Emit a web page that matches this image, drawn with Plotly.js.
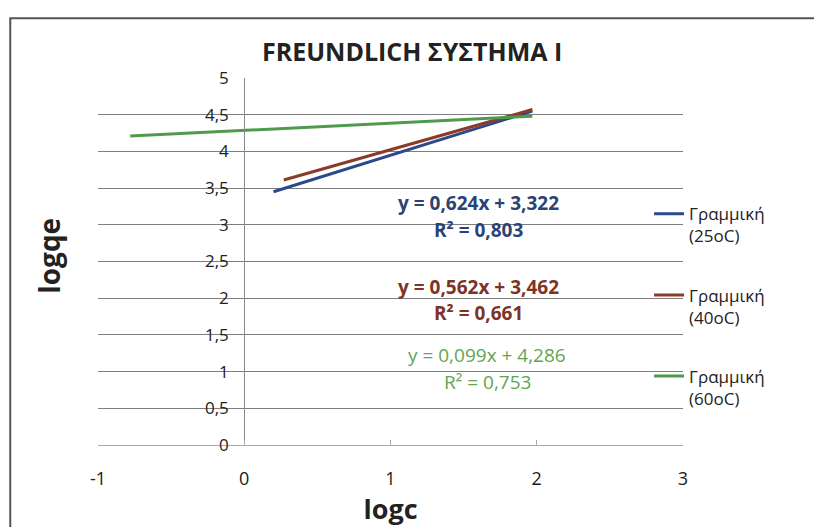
<!DOCTYPE html>
<html>
<head>
<meta charset="utf-8">
<script src="https://cdn.plot.ly/plotly-3.0.1.min.js"></script>
<style>
html,body{margin:0;padding:0;background:#fff;}
#chart{width:814px;height:527px;}
</style>
</head>
<body>
<div id="chart"></div>
<script>
// Trendline end points
const x25 = [0.20, 1.97];
const y25 = [3.45, 4.55];
const x40 = [0.27, 1.97];
const y40 = [3.61, 4.57];
const x60 = [-0.78, 1.97];
const y60 = [4.21, 4.48];

const seriesNames = ['Γραμμική<br>(25oC)', 'Γραμμική<br>(40oC)', 'Γραμμική<br>(60oC)'];
const equations = ['y = 0,624x + 3,322', 'y = 0,562x + 3,462', 'y = 0,099x + 4,286'];
const rSquared = ['R² = 0,803', 'R² = 0,661', 'R² = 0,753'];

const xTickVals = [-1, 0, 1, 2, 3];
const xTickLabels = ['-1', '0', '1', '2', '3'];
const yTickVals = [0, 0.5, 1, 1.5, 2, 2.5, 3, 3.5, 4, 4.5, 5];

const colors = ['#2B4A8A', '#8C3A2A', '#4F9A4C'];
const textColors = ['#2A4372', '#7D3325', '#62A452'];
const FONT = '"Open Sans", "Noto Sans", sans-serif';

const traces = [
  {x: x25, y: y25, name: seriesNames[0], legendgroup: 'a'},
  {x: x40, y: y40, name: seriesNames[1], legendgroup: 'b'},
  {x: x60, y: y60, name: seriesNames[2], legendgroup: 'c'}
].map((t, i) => Object.assign(t, {
  type: 'scatter', mode: 'lines',
  line: {color: colors[i], width: 3},
  hoverinfo: 'skip'
}));

// annotation anchor positions (data units)
const eqX = [1.60, 1.60, 1.66];
const eqY = [3.30, 2.15, 1.23];
const r2Y = [2.93, 1.80, 0.86];
const eqBold = [true, true, false];

const annotations = [];
for (let i = 0; i < 3; i++) {
  const b = eqBold[i];
  annotations.push({
    x: eqX[i], y: eqY[i], xref: 'x', yref: 'y', showarrow: false,
    text: b ? '<b>' + equations[i] + '</b>' : equations[i],
    font: {family: FONT, size: 19, color: textColors[i]}
  });
  annotations.push({
    x: eqX[i], y: r2Y[i], xref: 'x', yref: 'y', showarrow: false,
    text: b ? '<b>' + rSquared[i] + '</b>' : rSquared[i],
    font: {family: FONT, size: 19, color: textColors[i]}
  });
}
annotations.push({
  x: -0.12, y: 0.515, xref: 'paper', yref: 'paper', showarrow: false,
  text: '<b>logqe</b>', textangle: -90,
  font: {family: FONT, size: 28, color: '#222'}
});

const layout = {
  width: 814, height: 527,
  margin: {l: 98, r: 131, t: 78, b: 82},
  paper_bgcolor: '#ffffff', plot_bgcolor: '#ffffff',
  separators: ', ',
  font: {family: FONT, color: '#222'},
  title: {
    text: '<b>FREUNDLICH ΣΥΣΤΗΜΑ I</b>',
    font: {family: FONT, size: 25, color: '#222'},
    x: 0.537, xref: 'paper', xanchor: 'center',
    y: 0.9, yref: 'container', yanchor: 'middle'
  },
  xaxis: {
    range: [-1, 3], tickvals: xTickVals, ticktext: xTickLabels,
    showgrid: false, zeroline: false,
    showline: true, linecolor: '#aaaaaa', linewidth: 1,
    ticks: 'inside', ticklen: 5, tickcolor: '#aaaaaa',
    ticklabelstandoff: 17,
    tickfont: {family: FONT, size: 18, color: '#1a1a1a'},
    title: {text: '<b>logc</b>', font: {family: FONT, size: 27, color: '#222'}, standoff: 0},
    fixedrange: true
  },
  yaxis: {
    range: [0, 5], tickvals: yTickVals,
    anchor: 'free', position: 0.25,
    showgrid: true, gridcolor: '#7e7e7e', gridwidth: 1,
    zeroline: false, showline: true, linecolor: '#8a8a8a', linewidth: 1,
    ticks: '', ticklabelstandoff: 12,
    tickfont: {family: FONT, size: 17, color: '#222'},
    fixedrange: true
  },
  showlegend: true,
  legend: {
    x: 0.942, xanchor: 'left', y: 0.678, yanchor: 'top',
    valign: 'top', tracegroupgap: 34,
    font: {family: FONT, size: 17, color: '#222'},
    itemwidth: 30, bgcolor: 'rgba(0,0,0,0)'
  },
  annotations: annotations,
  shapes: [{
    type: 'rect', xref: 'paper', yref: 'paper',
    x0: -0.150, x1: 1.3, y0: -0.3, y1: 1.163,
    line: {color: '#555555', width: 2}, layer: 'below'
  }]
};

Plotly.newPlot('chart', traces, layout, {staticPlot: true, displayModeBar: false});
</script>
</body>
</html>
